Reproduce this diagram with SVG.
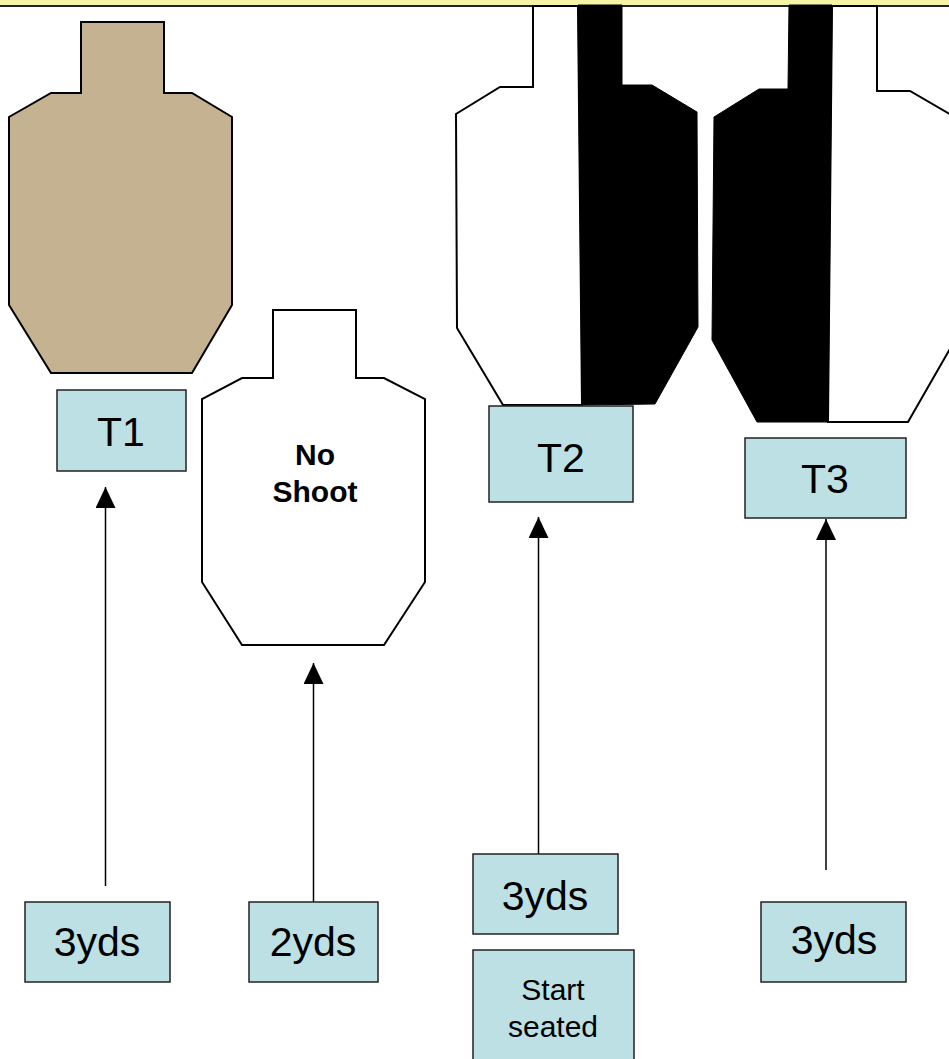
<svg xmlns="http://www.w3.org/2000/svg" width="949" height="1059" viewBox="0 0 949 1059">
<style>
.box{fill:#BCE0E4;stroke:#222;stroke-width:1.5}
.tgt{stroke:#000;stroke-width:2;stroke-linejoin:miter}
.big{font-family:"Liberation Sans",Arial,sans-serif;font-size:41px;fill:#000;text-anchor:middle}
.small{font-family:"Liberation Sans",Arial,sans-serif;font-size:30px;fill:#000;text-anchor:middle}
.bold{font-family:"Liberation Sans",Arial,sans-serif;font-size:30px;font-weight:bold;fill:#000;text-anchor:middle}
.conn{stroke:#000;stroke-width:1.5;fill:none}
</style>
<defs>
<marker id="arr" markerUnits="userSpaceOnUse" markerWidth="21" markerHeight="20" refX="21" refY="10" orient="auto" viewBox="0 0 21 20">
<path d="M0,0 L21,10 L0,20 z" fill="#000"/>
</marker>
</defs>
<rect width="949" height="1059" fill="#fff"/>
<g id="topbar">
<rect x="0" y="0" width="949" height="6" fill="#F5F5A6"/>
<line x1="0" y1="6" x2="949" y2="6" stroke="#222" stroke-width="2"/>
</g>
<g id="target-t1">
<polygon class="tgt" fill="#C4B290" points="81,22 164,22 164,93 192,93 232,117 232,305 192,373 51,373 9,305 9,117 51,93 81,93"/>
</g>
<g id="target-noshoot">
<polygon class="tgt" fill="#fff" points="273,310 356,310 356,378 384,378 425,399 425,582 384,645 242,645 202,582 202,399 242,378 273,378"/>
<text class="bold" x="315" y="465">No</text>
<text class="bold" x="315" y="502">Shoot</text>
</g>
<g id="target-t2">
<polygon class="tgt" fill="#fff" points="533,6 578,6 582,405 503,405 457,328 456,114 500,87 533,87"/>
<polygon fill="#000" stroke="#000" stroke-width="1" points="578,5 622,5 622,85 652,85 697,112 698,327 655,404 582,405"/>
</g>
<g id="target-t3">
<polygon class="tgt" fill="#fff" points="832,6 877,6 877,91 910,91 955,117 955,340 908,422 828,422"/>
<polygon fill="#000" stroke="#000" stroke-width="1" points="789,5 832,5 828,422 757,422 712,340 714,117 759,89 788,89"/>
</g>
<g id="label-t1">
<rect class="box" x="57" y="390" width="129" height="81"/>
<text class="big" x="121" y="446">T1</text>
</g>
<g id="label-t2">
<rect class="box" x="489" y="406" width="144" height="96"/>
<text class="big" x="561" y="472">T2</text>
</g>
<g id="label-t3">
<rect class="box" x="745" y="438" width="161" height="80"/>
<text class="big" x="825" y="493">T3</text>
</g>
<g id="dist-t1">
<rect class="box" x="25" y="902" width="145" height="80"/>
<text class="big" x="97" y="956">3yds</text>
</g>
<g id="dist-noshoot">
<rect class="box" x="249" y="902" width="129" height="80"/>
<text class="big" x="313" y="956">2yds</text>
</g>
<g id="dist-t2">
<rect class="box" x="473" y="854" width="145" height="80"/>
<text class="big" x="545" y="910">3yds</text>
</g>
<g id="start-seated">
<rect class="box" x="473" y="950" width="161" height="115"/>
<text class="small" x="553" y="1000">Start</text>
<text class="small" x="553" y="1037">seated</text>
</g>
<g id="dist-t3">
<rect class="box" x="761" y="902" width="145" height="80"/>
<text class="big" x="834" y="954">3yds</text>
</g>
<g id="connectors">
<line class="conn" x1="105.5" y1="886" x2="105.5" y2="487" marker-end="url(#arr)"/>
<line class="conn" x1="313.5" y1="902" x2="313.5" y2="663" marker-end="url(#arr)"/>
<line class="conn" x1="538.5" y1="854" x2="538.5" y2="517" marker-end="url(#arr)"/>
<line class="conn" x1="826" y1="870" x2="826" y2="519" marker-end="url(#arr)"/>
</g>
</svg>
